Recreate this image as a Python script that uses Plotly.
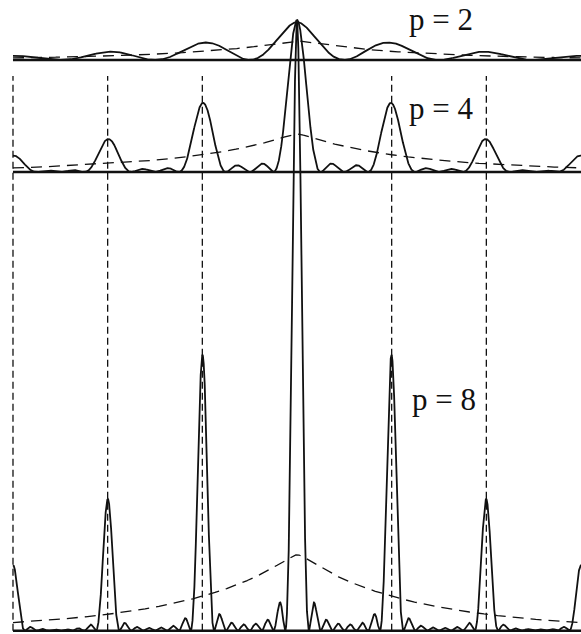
import numpy as np
import plotly.graph_objects as go

# Number of slits in each panel, top to bottom
SLIT_COUNTS = [2, 4, 8]
PANEL_LABELS = ["p = 2", "p = 4", "p = 8"]

# Interference orders marked with vertical guide lines
GUIDE_ORDERS = [-3, -2, -1, 1, 2]

# Range of the interference order shown on the horizontal axis
ORDER_MIN, ORDER_MAX = -3, 3

# Shape of the single-aperture envelope (relative height of principal maxima)
ENVELOPE_DECAY = 0.85
ENVELOPE_EXPONENT = 0.90
ENVELOPE_ROUNDING = 0.08

# ---- layout (pixels) ----
W, H = 581, 634
X_ZERO_PX = 297.0          # horizontal position of order 0
PX_PER_ORDER = 94.67
PX_PER_UNIT = 9.5          # common intensity scale for all panels
BASELINE_PX = {2: 60.0, 4: 172.0, 8: 630.7}
LABEL_POS_PX = {2: (407, 19), 4: (407, 108), 8: (410, 399)}
AXIS_NAME = {8: "y", 4: "y2", 2: "y3"}
SERIF = "Liberation Serif, Times New Roman, Tinos, DejaVu Serif, serif"


def envelope(x):
    r = np.sqrt(x ** 2 + ENVELOPE_ROUNDING ** 2) - ENVELOPE_ROUNDING
    return np.exp(-ENVELOPE_DECAY * r ** ENVELOPE_EXPONENT)


def grating_factor(x, p):
    num = np.sin(p * np.pi * x)
    den = np.sin(np.pi * x)
    out = np.full_like(x, float(p * p))
    ok = np.abs(den) > 1e-12
    out[ok] = (num[ok] / den[ok]) ** 2
    return out


x = np.linspace(ORDER_MIN, ORDER_MAX, 24001)
env = envelope(x)

fig = go.Figure()
ink = "#111111"

for p in SLIT_COUNTS:
    yname = AXIS_NAME[p]
    # baseline
    fig.add_trace(go.Scatter(
        x=[ORDER_MIN, ORDER_MAX + 0.05], y=[0, 0], yaxis=yname, mode="lines",
        line=dict(color=ink, width=2.4), hoverinfo="skip", showlegend=False))
    # mean intensity p * envelope (dashed)
    fig.add_trace(go.Scatter(
        x=x, y=p * env, yaxis=yname, mode="lines",
        line=dict(color=ink, width=1.3, dash="11px,7px"),
        hoverinfo="skip", showlegend=False))
    # grating intensity
    fig.add_trace(go.Scatter(
        x=x, y=env * grating_factor(x, p), yaxis=yname, mode="lines",
        line=dict(color=ink, width=1.8), hoverinfo="skip", showlegend=False))

# vertical guides at the principal orders, drawn on the bottom panel's axis
guide_top = (BASELINE_PX[8] - 76.0) / PX_PER_UNIT
gx, gy = [], []
for m in GUIDE_ORDERS:
    gx += [m, m, None]
    gy += [0, guide_top, None]
fig.add_trace(go.Scatter(
    x=gx, y=gy, mode="lines", line=dict(color=ink, width=1.3, dash="7px,4px"),
    hoverinfo="skip", showlegend=False))

# axes: same scale everywhere, baselines offset per panel
x_range = [-X_ZERO_PX / PX_PER_ORDER, (W - X_ZERO_PX) / PX_PER_ORDER]


def y_range(p):
    b = BASELINE_PX[p]
    return [-(H - b) / PX_PER_UNIT, b / PX_PER_UNIT]


hidden = dict(visible=False, showgrid=False, zeroline=False, fixedrange=True)
fig.update_layout(
    width=W, height=H,
    margin=dict(l=0, r=0, t=0, b=0),
    paper_bgcolor="white", plot_bgcolor="white",
    xaxis=dict(range=x_range, **hidden),
    yaxis=dict(range=y_range(8), **hidden),
    yaxis2=dict(range=y_range(4), overlaying="y", **hidden),
    yaxis3=dict(range=y_range(2), overlaying="y", **hidden),
    showlegend=False,
)

for p, label in zip(SLIT_COUNTS, PANEL_LABELS):
    px, py = LABEL_POS_PX[p]
    fig.add_annotation(
        text=label, xref="paper", yref="paper", x=px / W, y=1 - py / H,
        xanchor="left", yanchor="middle", showarrow=False,
        font=dict(family=SERIF, size=31, color=ink))

fig.write_html("out.html")
